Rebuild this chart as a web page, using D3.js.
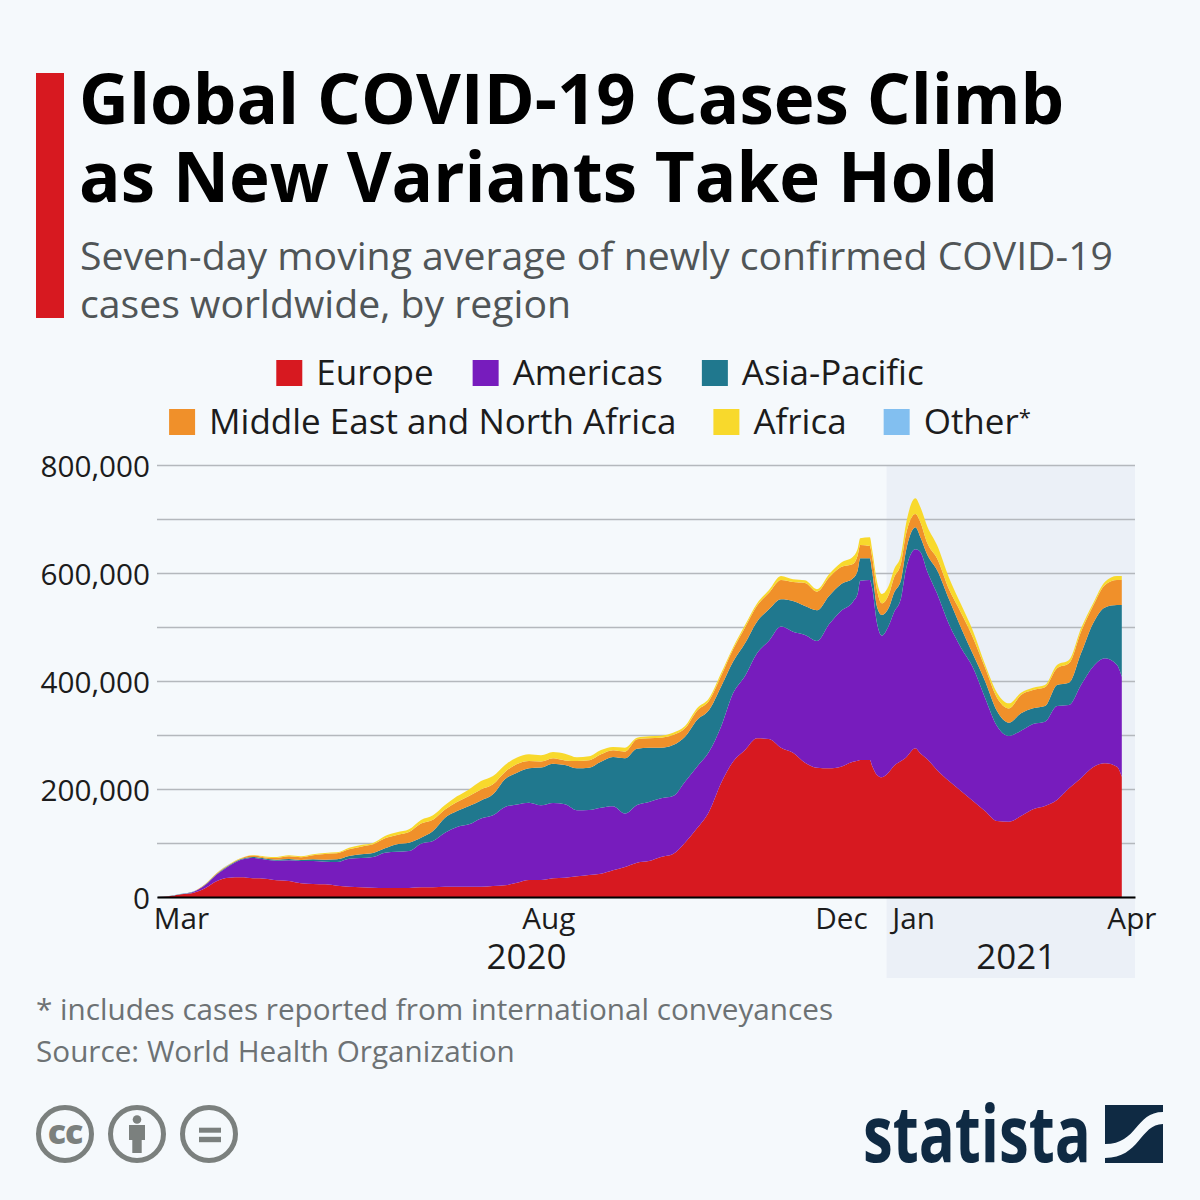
<!DOCTYPE html>
<html>

<head>
  <meta charset="utf-8">
  <title>Global COVID-19 Cases</title>
  <script src="https://d3js.org/d3.v7.min.js"></script>
  <style>
    html, body { margin: 0; padding: 0; background: #f5f9fc; }
    text { font-family: "Open Sans", sans-serif; }
  </style>
</head>

<body>
  <div id='view'></div>
  <script>
    // days after 20 Feb 2020 for each sample, tighter around the Christmas dip
    var sampleDays = [0, 5, 10, 15, 20, 25, 30, 35, 40, 45, 50, 55, 60, 65, 70, 75, 80, 85, 90, 95, 100, 105, 110, 115, 120, 125, 130, 135, 140, 145, 150, 155, 160, 165, 170, 175, 180, 185, 190, 195, 200, 205, 210, 215, 220, 225, 230, 235, 240, 245, 250, 255, 260, 265, 270, 275, 280, 285, 290, 292, 293, 297, 298, 300, 302, 305, 307, 310, 312, 316, 318, 321, 325, 330, 335, 340, 345, 350, 355, 360, 365, 370, 375, 380, 385, 390, 395, 400, 402];

    // values in thousands of cases
    var europe = [0, 1.5, 4.9, 7.4, 16, 29.6, 35.8, 36.4, 34.6, 34, 30.9, 29.6, 25.3, 24.1, 23.5, 21, 19.1, 17.9, 17.3, 16.7, 16.7, 16.7, 17.9, 17.9, 19.1, 19.1, 19.1, 19.1, 20.4, 21.6, 26.5, 31.5, 31.5, 34.6, 35.8, 38.3, 40.7, 43.2, 49.4, 55.6, 63.6, 66.7, 74.1, 79.6, 100.6, 127.2, 158, 210.5, 250.6, 272.2, 293.8, 292.6, 276.6, 267.3, 248.8, 239.5, 238.3, 241.4, 250.6, 252.5, 253.7, 253.7, 242.6, 225.9, 221.6, 231.5, 242.6, 251.9, 258, 275.3, 266, 254.9, 235.2, 214.8, 196.3, 177.8, 159.3, 140.7, 139.5, 150, 162.4, 168.5, 179.6, 201.2, 219.8, 240.1, 247.5, 241.3, 222.8];
    var americas = [0, 0, 0.2, 1.9, 5.6, 12.3, 21.6, 32.7, 37.7, 35.5, 36.4, 38.3, 41.3, 42.6, 42, 43.8, 51.9, 54.3, 56.8, 65.4, 67.3, 68.5, 80.9, 85.8, 100, 110.5, 115.4, 126.5, 130.9, 145.2, 145, 143.2, 138.3, 139.5, 135.8, 122.2, 120.4, 122.2, 118.5, 98.8, 106.8, 109.3, 108.6, 107.4, 113, 114.2, 111.1, 104.9, 126.5, 137, 157.4, 182.1, 224.1, 224, 236.4, 234.6, 266.7, 288.3, 296.3, 309.9, 332.1, 333.4, 329, 280.9, 262.4, 272.2, 284, 301.2, 347.5, 368.5, 373.5, 347.5, 327.2, 290.1, 265.4, 246.9, 209.9, 175.9, 158.6, 158, 158, 156.2, 174.1, 154.3, 172.8, 186.4, 194.4, 188.3, 185.2];
    var asiaPacific = [0, 0.3, 0.4, 0.3, 1.2, 1.2, 1.2, 1.2, 1.9, 1.9, 1.9, 2.5, 1.9, 3.1, 3.7, 4.9, 4.9, 6.8, 7.4, 8, 13.6, 15.4, 11.1, 18.5, 27.8, 29.6, 34, 33.3, 38.9, 51.2, 58.6, 63.6, 69.8, 72.8, 72.8, 77.8, 78.4, 85.2, 91.4, 102.5, 104.3, 100.6, 93.8, 94.4, 83.3, 86.4, 77.2, 74.1, 58.6, 60.5, 58.6, 58, 50.6, 56.8, 53.7, 56.8, 52.5, 49.4, 43.2, 43.2, 41.4, 40.1, 30.9, 30.9, 38.3, 32.7, 35.8, 34, 34, 40.7, 27.8, 30.9, 43.2, 46.3, 37, 24.7, 30.9, 27.8, 24.7, 32.1, 29, 29, 38.9, 41.4, 58.6, 80.2, 94.4, 111.1, 132.7];
    var menaRegion = [0, 0, 0.1, 0.2, 0.6, 1.2, 1.2, 1.2, 2.5, 1.9, 3.1, 4.9, 4.9, 7.4, 10.5, 11.1, 12.3, 14.2, 16, 18.5, 17.3, 19.8, 26.2, 21, 15, 16.7, 18.5, 20.4, 18.5, 13.6, 16, 13.6, 11.1, 9.9, 8.6, 13.6, 13.6, 13.6, 12.3, 12.3, 17.3, 17.3, 18.5, 18.5, 15.4, 17.3, 17.3, 19.8, 22.8, 29.6, 29.6, 30.9, 35.8, 35.2, 42.6, 34.6, 34, 32.1, 26.5, 27.8, 24.7, 22.8, 26.5, 30.9, 21.6, 24.7, 27.8, 30.9, 30.9, 24.7, 27.8, 21.6, 21.6, 18.5, 27.8, 30.9, 24.7, 24.7, 26.5, 34, 34, 34.6, 30.9, 35.8, 40.1, 32.1, 41.4, 46.3, 46.3];
    var africa = [0, 0, 0, 0, 0.2, 0.6, 0.6, 0.6, 1.2, 1.9, 1.9, 1.9, 1.9, 1.9, 1.9, 1.9, 3.1, 3.1, 2.5, 4.3, 4.9, 4.9, 6.5, 8, 8.4, 10.5, 12.3, 15.4, 15.4, 13, 12.3, 12.3, 11.7, 11.7, 12.3, 6.8, 7.4, 8, 6.2, 7.4, 3.1, 3.7, 3.7, 4.3, 4.3, 4.3, 4.3, 4.9, 3.7, 4.3, 4.3, 4.9, 7.4, 4.9, 4.9, 4.3, 6.2, 8, 13.6, 12.3, 12.3, 16, 13.6, 15.4, 17.3, 16.7, 15.4, 15.4, 18.5, 29, 27.8, 30.9, 24.7, 21.6, 15.4, 12.3, 6.2, 9.3, 9.3, 4.3, 4.3, 4.3, 6.2, 6.2, 6.2, 4.9, 6.2, 7.4, 7.4];
    var other = [0, 0.1, 0.2, 0.2, 0.1, 0.1, 0.1, 0, 0, 0, 0, 0, 0, 0, 0, 0, 0, 0, 0, 0, 0, 0, 0, 0, 0, 0, 0, 0, 0, 0, 0, 0, 0, 0, 0, 0, 0, 0, 0, 0, 0, 0, 0, 0, 0, 0, 0, 0, 0, 0, 0, 0, 0, 0, 0, 0, 0, 0, 0, 0, 0, 0, 0, 0, 0, 0, 0, 0, 0, 0, 0, 0, 0, 0, 0, 0, 0, 0, 0, 0, 0, 0, 0, 0, 0, 0, 0, 0, 0];

    var seriesNames = ["Europe", "Americas", "Asia-Pacific", "Middle East and North Africa", "Africa", "Other*"];
    var seriesValues = [europe, americas, asiaPacific, menaRegion, africa, other];
    var seriesColors = ["#d71920", "#771cbd", "#20788e", "#f0902a", "#f8d92c", "#82bff0"];
    var legendRows = [[0, 1, 2], [3, 4, 5]];

    var monthLabels = ["Mar", "Aug", "Dec", "Jan", "Apr"];
    var monthDates = ["2020-03-01", "2020-08-01", "2020-12-01", "2020-12-31", "2021-04-01"];
    var yearLabels = ["2020", "2021"];
    var yearDates = ["2020-07-23", "2021-02-12"];
    var yTicks = [0, 100, 200, 300, 400, 500, 600, 700, 800];

    var parse = d3.utcParse("%Y-%m-%d");
    var firstDay = parse("2020-02-20");
    var dates = sampleDays.map(function (d) { return d3.utcDay.offset(firstDay, d); });

    var width = 1200;
    var height = 1200;
    var left = 157;
    var right = 1135;
    var top0 = 465;
    var bottom = 897;
    var inkGrey = "#6d7274";

    var svg = d3.select("#view")
      .append("svg")
      .attr("width", width)
      .attr("height", height)
      .style("display", "block");

    svg.append("rect")
      .attr("width", width)
      .attr("height", height)
      .attr("fill", "#f5f9fc");

    // header
    svg.append("rect")
      .attr("x", 36).attr("y", 73)
      .attr("width", 28).attr("height", 245)
      .attr("fill", "#d71920");

    var titleLines = ["Global COVID-19 Cases Climb", "as New Variants Take Hold"];
    titleLines.forEach(function (t, i) {
      svg.append("text")
        .attr("x", 79).attr("y", 124 + i * 78)
        .attr("font-size", 69).attr("font-weight", 700)
        .attr("fill", "#000")
        .text(t);
    });

    var subLines = ["Seven-day moving average of newly confirmed COVID-19", "cases worldwide, by region"];
    subLines.forEach(function (t, i) {
      svg.append("text")
        .attr("x", 80).attr("y", 270 + i * 48)
        .attr("font-size", 39.2)
        .attr("fill", "#505557")
        .text(t);
    });

    // legend, each row centred from measured text
    var legendGaps = [39, 37];
    legendRows.forEach(function (row, r) {
      var g = svg.append("g");
      var cx = 0;
      row.forEach(function (s) {
        g.append("rect")
          .attr("x", cx).attr("y", 360 + r * 49)
          .attr("width", 26).attr("height", 26)
          .attr("fill", seriesColors[s]);
        var label = g.append("text")
          .attr("x", cx + 40).attr("y", 385 + r * 49)
          .attr("font-size", 35)
          .attr("fill", "#1c1c1c");
        var name = seriesNames[s];
        if (name.slice(-1) === "*") {
          label.append("tspan").text(name.slice(0, -1));
          label.append("tspan").attr("font-size", 22).attr("dy", -9).text("*");
        } else {
          label.text(name);
        }
        cx += 40 + label.node().getComputedTextLength() + legendGaps[r];
      });
      g.attr("transform", "translate(" + (600 - (cx - legendGaps[r]) / 2) + ",0)");
    });

    // scales
    var xScale = d3.scaleUtc()
      .domain([firstDay, d3.utcHour.offset(firstDay, 407.5 * 24)])
      .range([left, right]);

    var yScale = d3.scaleLinear()
      .domain([0, 800])
      .range([bottom, top0]);

    // 2021 band
    svg.append("rect")
      .attr("x", xScale(parse("2020-12-20")))
      .attr("y", top0)
      .attr("width", right - xScale(parse("2020-12-20")))
      .attr("height", 978 - top0)
      .attr("fill", "#ebf0f7");

    // y axis + gridlines
    var yAxis = svg.append("g")
      .attr("transform", "translate(" + left + ",0)")
      .call(d3.axisLeft(yScale)
        .tickValues(yTicks)
        .tickSize(-(right - left))
        .tickPadding(7)
        .tickFormat(function (d) { return d % 200 === 0 ? d3.format(",")(d * 1000) : ""; }));

    yAxis.select(".domain").remove();
    yAxis.selectAll("line")
      .attr("stroke", "#b4b8bd")
      .attr("stroke-width", 1.5);
    yAxis.selectAll("text")
      .attr("font-size", 29.7)
      .attr("dy", "0.395em")
      .attr("font-family", '"Open Sans", sans-serif')
      .attr("fill", "#1c1c1c");

    // stacked areas
    var table = dates.map(function (d, i) {
      var row = { date: d };
      seriesNames.forEach(function (name, s) { row[name] = seriesValues[s][i]; });
      return row;
    });

    var stacked = d3.stack().keys(seriesNames)(table);

    var area = d3.area()
      .x(function (d) { return xScale(d.data.date); })
      .y0(function (d) { return yScale(d[0]); })
      .y1(function (d) { return yScale(d[1]); })
      .curve(d3.curveMonotoneX);

    svg.selectAll(".layer")
      .data(stacked)
      .enter()
      .append("path")
      .attr("class", "layer")
      .attr("d", area)
      .attr("fill", function (d, i) { return seriesColors[i]; });

    // x axis
    var xAxis = svg.append("g")
      .attr("transform", "translate(0," + bottom + ")")
      .call(d3.axisBottom(xScale)
        .tickValues(monthDates.map(parse))
        .tickSize(0)
        .tickPadding(11)
        .tickFormat(function (d, i) { return monthLabels[i]; }));

    xAxis.select(".domain")
      .attr("stroke", "#000")
      .attr("stroke-width", 2);
    xAxis.selectAll("text")
      .attr("font-size", 29.7)
      .attr("font-family", '"Open Sans", sans-serif')
      .attr("fill", "#1c1c1c");

    yearLabels.forEach(function (t, i) {
      svg.append("text")
        .attr("x", xScale(parse(yearDates[i])))
        .attr("y", 969)
        .attr("text-anchor", "middle")
        .attr("font-size", 35)
        .attr("fill", "#1c1c1c")
        .text(t);
    });

    // footer
    var footLines = ["* includes cases reported from international conveyances", "Source: World Health Organization"];
    footLines.forEach(function (t, i) {
      svg.append("text")
        .attr("x", 36).attr("y", 1020 + i * 42)
        .attr("font-size", 29.7)
        .attr("fill", inkGrey)
        .text(t);
    });

    // licence icons
    [65, 137, 209].forEach(function (cx) {
      svg.append("circle")
        .attr("cx", cx).attr("cy", 1134).attr("r", 26.5)
        .attr("fill", "none")
        .attr("stroke", "#7b807e")
        .attr("stroke-width", 5);
    });
    svg.append("text")
      .attr("x", 65).attr("y", 1143.5)
      .attr("text-anchor", "middle")
      .attr("font-size", 34).attr("font-weight", 800)
      .attr("letter-spacing", -1)
      .attr("fill", "#7b807e")
      .text("cc");
    svg.append("circle")
      .attr("cx", 137).attr("cy", 1119.5).attr("r", 4.3)
      .attr("fill", "#7b807e");
    svg.append("path")
      .attr("d", "M129,1125H145V1140H141.7V1153H132.3V1140H129Z")
      .attr("fill", "#7b807e");
    svg.append("rect").attr("x", 199).attr("y", 1127.7).attr("width", 22).attr("height", 5).attr("fill", "#7b807e");
    svg.append("rect").attr("x", 199).attr("y", 1136.8).attr("width", 22).attr("height", 5.4).attr("fill", "#7b807e");

    // statista logo
    var logoText = svg.append("text")
      .attr("y", 0)
      .attr("font-size", 78).attr("font-weight", 700)
      .attr("fill", "#0f2a43")
      .text("statista");
    var logoScale = 228 / logoText.node().getComputedTextLength();
    logoText.attr("transform", "translate(863,1162) scale(" + logoScale + ",1)");

    svg.append("path")
      .attr("d", "M1105,1105H1163V1112C1135,1112 1138,1144 1105,1144Z")
      .attr("fill", "#0f2a43");
    svg.append("path")
      .attr("d", "M1163,1124C1140,1124 1140,1158 1105,1158V1163H1163Z")
      .attr("fill", "#0f2a43");
  </script>
</body>

</html>
